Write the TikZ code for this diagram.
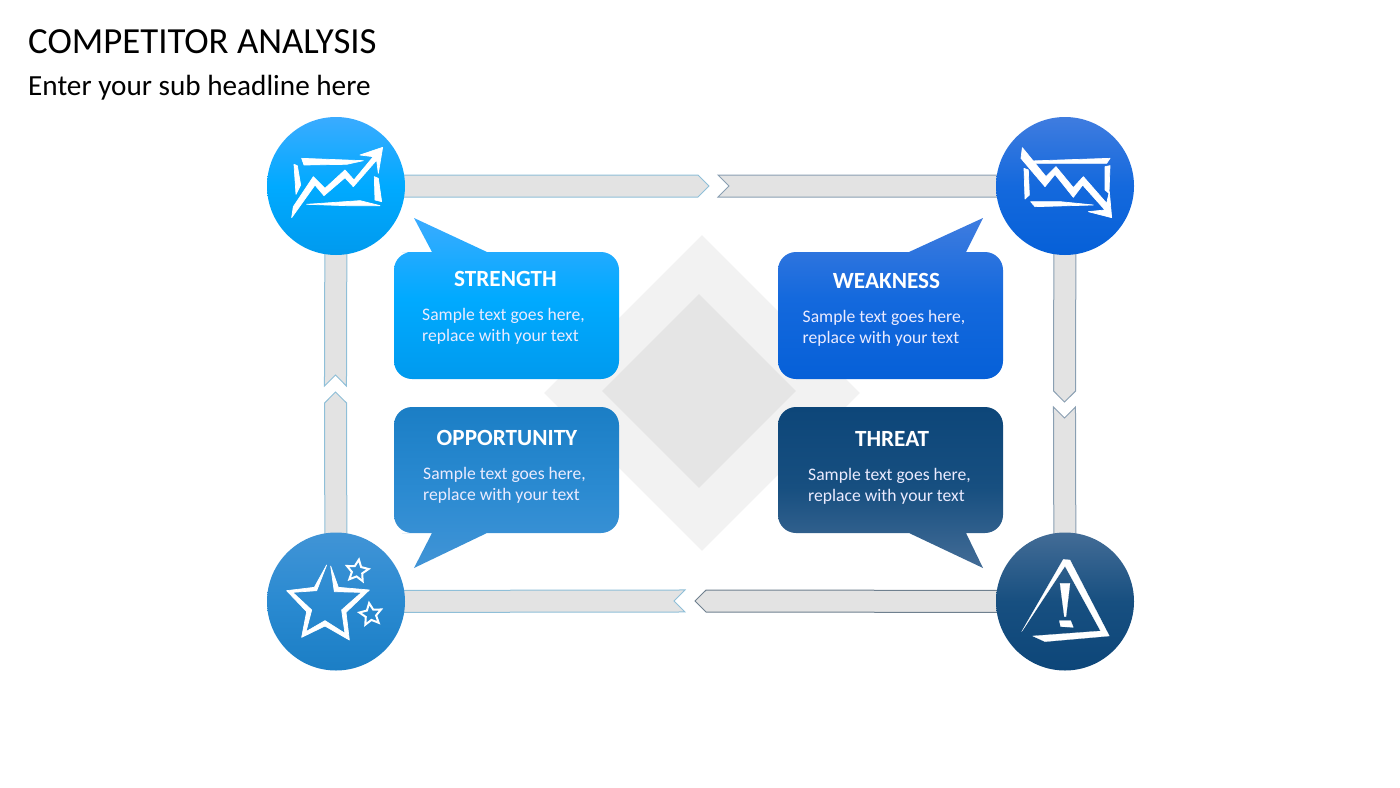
\documentclass[tikz,border=0pt]{standalone}
\usepackage{fontspec}
\setmainfont{Carlito}
\usetikzlibrary{calc, backgrounds, shapes.geometric}

\definecolor{stretop}{HTML}{3AABFF}
\definecolor{stremid}{HTML}{00AAFF}
\definecolor{strelow}{HTML}{009AEE}
\definecolor{weaktop}{HTML}{3F7CDF}
\definecolor{weakmid}{HTML}{1469DD}
\definecolor{weaklow}{HTML}{0660D8}
\definecolor{opptop}{HTML}{4194D6}
\definecolor{oppmid}{HTML}{2A8AD1}
\definecolor{opplow}{HTML}{1B7EC5}
\definecolor{thrtop}{HTML}{436C96}
\definecolor{thrmid}{HTML}{174F80}
\definecolor{thrlow}{HTML}{0D4679}
\definecolor{barblue}{HTML}{8FBFD8}
\definecolor{bargrey}{HTML}{8A9FB2}
\definecolor{bardark}{HTML}{6F808F}

\begin{document}
\begin{tikzpicture}[x=1pt, y=-1pt,
    badge/.style = {circle, minimum size=138pt, inner sep=0pt},
    stre shade/.style = {top color=stretop, bottom color=strelow, middle color=stremid},
    weak shade/.style = {top color=weaktop, bottom color=weaklow, middle color=weakmid},
    opp shade/.style = {top color=opptop, bottom color=opplow, middle color=oppmid},
    opp flip/.style = {top color=opplow, bottom color=opptop, middle color=oppmid},
    thr shade/.style = {top color=thrtop, bottom color=thrlow, middle color=thrmid},
    thr flip/.style = {top color=thrlow, bottom color=thrtop, middle color=thrmid},
    headtext/.style = {text=white, font=\fontsize{23.2}{27}\selectfont\bfseries},
    bodytext/.style = {text=white!92!blue, anchor=west, align=left, inner sep=0pt,
      font=\fontsize{17.6}{21}\selectfont},
    plate/.style = {diamond, aspect=1, inner sep=0pt},
    glyph/.style = {x=.3333pt, y=-.3333pt, fill=white, draw=white, line width=.7pt, line join=round},
    minorstar/.style = {star, star points=5, star point ratio=2.1, draw=white,
      line width=2pt, inner sep=0pt, minimum size=23pt},
    tipbar/.style = {fill=black!11, line width=1pt, to path={
      ($(\tikztostart)!11pt!90:(\tikztotarget)$)
      -- ($(\tikztotarget)!15.556pt!-45:(\tikztostart)$) -- (\tikztotarget)
      -- ($(\tikztotarget)!15.556pt!45:(\tikztostart)$)
      -- ($(\tikztostart)!11pt!-90:(\tikztotarget)$) -- cycle}},
    notchbar/.style = {fill=black!11, line width=1pt, to path={
      ($(\tikztostart)!11pt!90:(\tikztotarget)$)
      -- ($(\tikztotarget)!15.556pt!-135:(\tikztostart)$) -- (\tikztotarget)
      -- ($(\tikztotarget)!15.556pt!135:(\tikztostart)$)
      -- ($(\tikztostart)!11pt!-90:(\tikztotarget)$) -- cycle}}]
  \useasboundingbox (0,0) rectangle (1400,787);

  \node[anchor=west, inner sep=0pt, font=\fontsize{36.8}{40}\selectfont] (title) at (28,42) {COMPETITOR ANALYSIS};
  \node[anchor=west, inner sep=0pt, font=\fontsize{29.2}{32}\selectfont] (subtitle) at (28,88) {Enter your sub headline here};

  \node[plate, fill=black!5, minimum size=316pt] (outerplate) at (702,393) {};
  \node[plate, fill=black!10, minimum size=194pt] (innerplate) at (699,391) {};

  % corner badges
  \node[badge, stre shade] (stre) at (336,186) {};
  \node[badge, weak shade] (weak) at (1065,186) {};
  \node[badge, opp shade] (opp) at (336,601.5) {};
  \node[badge, thr shade] (thr) at (1065,601.5) {};

  % bars between the badges
  \coordinate (topa) at (709,186);
  \coordinate (topb) at (729,186);
  \coordinate (lefta) at (335.5,375);
  \coordinate (leftb) at (335.5,392);
  \coordinate (righta) at (1064.5,402);
  \coordinate (rightb) at (1064.5,418);
  \coordinate (lowa) at (674,601);
  \coordinate (lowb) at (695,601);
  \begin{scope}[on background layer]
    \draw[tipbar, draw=barblue] (stre.center) to (topa);
    \draw[notchbar, draw=bargrey] (weak.center) to (topb);
    \draw[notchbar, draw=barblue] (stre.center) to (lefta);
    \draw[tipbar, draw=barblue] (opp.center) to (leftb);
    \draw[tipbar, draw=bargrey] (weak.center) to (righta);
    \draw[notchbar, draw=bargrey] (thr.center) to (rightb);
    \draw[notchbar, draw=barblue] (opp.center) to (lowa);
    \draw[tipbar, draw=bardark] (thr.center) to (lowb);
  \end{scope}

  % speech bubbles
  \path[stre shade] (487,252) -- (560,252) [rounded corners=18pt] -- (619,252) -- (619,379) -- (394,379) -- (394,252) -- (420,252) [sharp corners] -- (432,252) -- (414,218) -- cycle;
  \path[weak shade] (966,252) -- (975,252) [rounded corners=18pt] -- (1003,252) -- (1003,379) -- (778,379) -- (778,252) -- (840,252) [sharp corners] -- (909,252) -- (983,218) -- cycle;
  \path[opp flip] (487,533) -- (560,533) [rounded corners=18pt] -- (619,533) -- (619,407) -- (394,407) -- (394,533) -- (420,533) [sharp corners] -- (432,533) -- (414,568) -- cycle;
  \path[thr flip] (966,533) -- (975,533) [rounded corners=18pt] -- (1003,533) -- (1003,407) -- (778,407) -- (778,533) -- (840,533) [sharp corners] -- (909,533) -- (983,568) -- cycle;

  \node[headtext] (strehead) at (505.5,279) {STRENGTH};
  \node[bodytext] (strebody) at (422,326.5) {Sample text goes here,\\replace with your text};
  \node[headtext] (weakhead) at (886.5,281) {WEAKNESS};
  \node[bodytext] (weakbody) at (802.5,328.5) {Sample text goes here,\\replace with your text};
  \node[headtext] (opphead) at (507,438) {OPPORTUNITY};
  \node[bodytext] (oppbody) at (423,485) {Sample text goes here,\\replace with your text};
  \node[headtext] (thrhead) at (892,439) {THREAT};
  \node[bodytext] (thrbody) at (808,486) {Sample text goes here,\\replace with your text};

  % rising chart
  \begin{scope}[shift={(280,135)}, glyph]
    \filldraw (65,70) -- (250,77) -- (200,88) -- (72,90) -- cycle;
    \filldraw (42,88) -- (52,92) -- (62,150) -- (48,178) -- cycle;
    \filldraw (283,125) -- (295,130) -- (305,200) -- (285,195) -- cycle;
    \filldraw (80,208) -- (240,197) -- (300,212) -- (200,212) -- cycle;
    \filldraw (35,248) -- (40,215) -- (100,125) -- (135,160) -- (195,105) -- (222,135) -- (280,65) -- (240,60) -- (308,37) -- (295,115) -- (290,75) -- (220,155) -- (195,128) -- (132,182) -- (105,150) -- cycle;
  \end{scope}
  % falling chart
  \begin{scope}[shift={(1010,135)}, glyph]
    \filldraw (62,78) -- (300,70) -- (290,85) -- (75,85) -- cycle;
    \filldraw (42,100) -- (55,105) -- (58,180) -- (45,192) -- cycle;
    \filldraw (285,95) -- (300,92) -- (297,175) -- (285,165) -- cycle;
    \filldraw (62,200) -- (150,200) -- (250,210) -- (75,215) -- cycle;
    \filldraw (37,38) -- (108,125) -- (138,95) -- (190,158) -- (220,125) -- (290,205) -- (298,170) -- (305,248) -- (235,230) -- (285,225) -- (218,150) -- (190,187) -- (135,118) -- (105,155) -- (33,70) -- cycle;
  \end{scope}
  % stars
  \begin{scope}[shift={(280,550)}, glyph]
    \filldraw (140,45) -- (103,112) -- (20,122) -- (80,185) -- (65,262) -- (135,228) -- (208,270) -- (198,187) -- (268,120) -- (175,112) -- (152,48) -- (163,125) -- (245,127) -- (185,180) -- (195,250) -- (135,212) -- (78,245) -- (95,180) -- (38,127) -- (110,122) -- cycle;
  \end{scope}
  \node[minorstar, rotate=-8] (stara) at (357.3,571) {};
  \node[minorstar, rotate=8] (starb) at (370.7,614.5) {};
  % warning sign
  \begin{scope}[shift={(1010,550)}, glyph, line width=.2pt]
    \filldraw (35,245) -- (160,28) -- (180,30) -- (298,258) -- (105,275) -- (68,258) -- (272,243) -- (165,48) -- cycle;
    \filldraw (150,100) -- (180,100) -- (168,200) -- (163,200) -- cycle;
    \filldraw (148,212) -- (182,212) -- (190,232) -- (152,230) -- cycle;
  \end{scope}
\end{tikzpicture}
\end{document}
